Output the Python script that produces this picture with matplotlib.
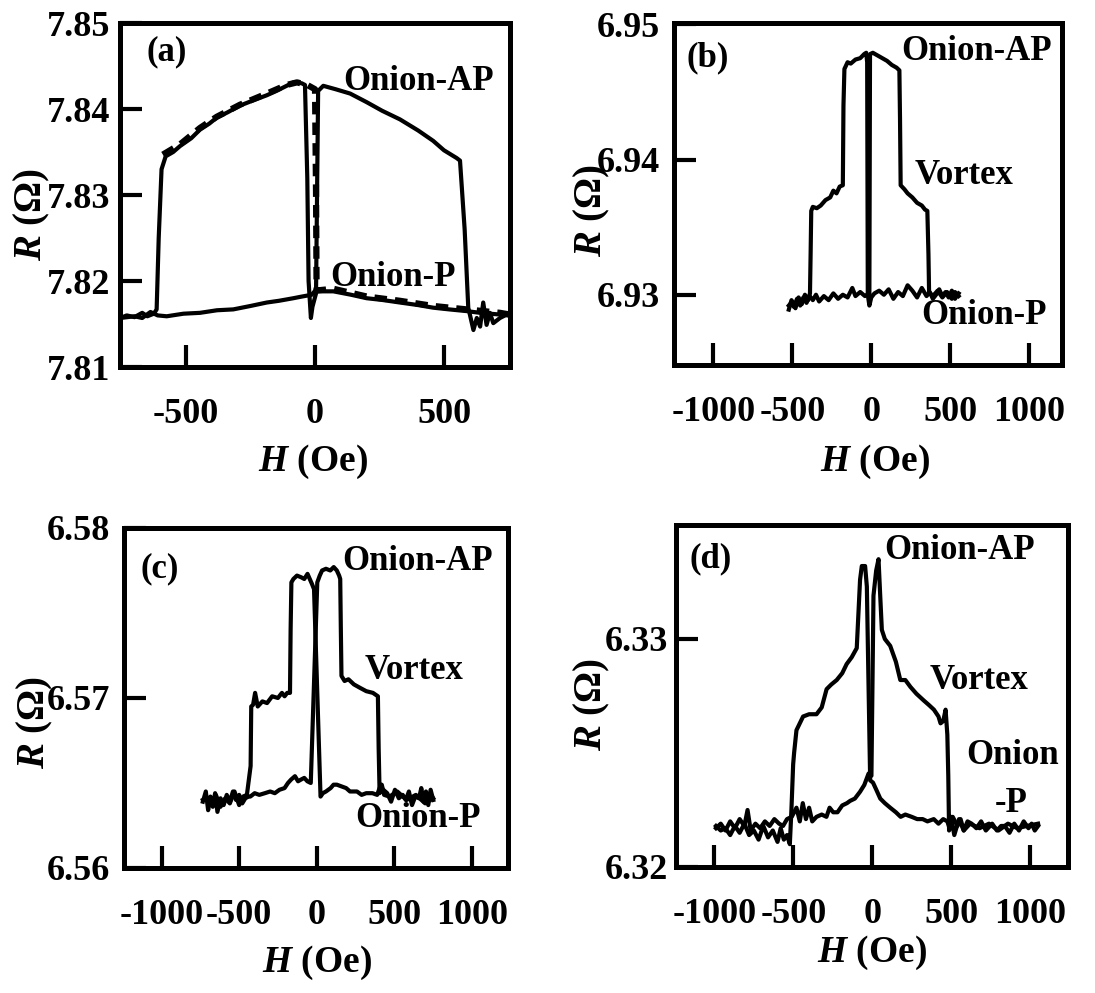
import matplotlib
matplotlib.use('Agg')
import matplotlib.pyplot as plt

plt.rcParams['font.family'] = ['Liberation Serif', 'DejaVu Serif']
plt.rcParams['font.weight'] = 'bold'
plt.rcParams['axes.labelweight'] = 'bold'
plt.rcParams['mathtext.fontset'] = 'custom'
plt.rcParams['mathtext.it'] = 'Liberation Serif:italic:bold'
plt.rcParams['mathtext.rm'] = 'Liberation Serif:bold'
plt.rcParams['mathtext.bf'] = 'Liberation Serif:bold'

# ---- data: (H in Oe, R in Ohm) ----
# (a) field sweep up, down and a repeated (dashed) up sweep
a_up = [(-755, 7.8157), (-730, 7.8160), (-700, 7.8158), (-670, 7.8163), (-650, 7.8159),
        (-625, 7.8162), (-614, 7.8167), (-606, 7.8250), (-595, 7.8330), (-579, 7.8345),
        (-550, 7.8350), (-523, 7.8357), (-480, 7.8366), (-446, 7.8376), (-410, 7.8383),
        (-381, 7.8390), (-340, 7.8396), (-291, 7.8404), (-240, 7.8410), (-187, 7.8416),
        (-150, 7.8421), (-110, 7.8427), (-84, 7.8431), (-52, 7.8430), (-39, 7.8428),
        (-30, 7.8320), (-25, 7.8200), (-16, 7.8157), (-10, 7.8170), (6, 7.8188),
        (71, 7.8188), (140, 7.8184), (200, 7.8180), (260, 7.8178), (329, 7.8175),
        (400, 7.8172), (458, 7.8169), (520, 7.8167), (588, 7.8165), (640, 7.8163),
        (717, 7.8161), (755, 7.8160)]
a_down = [(755, 7.8160), (743, 7.8161), (717, 7.8157), (691, 7.8151), (678, 7.8163),
          (665, 7.8149), (652, 7.8175), (640, 7.8147), (627, 7.8157), (614, 7.8143),
          (601, 7.8160), (594, 7.8169), (580, 7.8260), (562, 7.8340), (549, 7.8343),
          (500, 7.8352), (458, 7.8363), (400, 7.8375), (329, 7.8388), (260, 7.8398),
          (200, 7.8408), (136, 7.8418), (80, 7.8423), (32, 7.8427), (12, 7.8421),
          (4, 7.8190), (-13, 7.8184), (-50, 7.8182), (-84, 7.8180), (-140, 7.8177),
          (-187, 7.8175), (-250, 7.8171), (-317, 7.8167), (-380, 7.8166), (-446, 7.8163),
          (-510, 7.8162), (-575, 7.8159), (-610, 7.8160), (-638, 7.8164), (-670, 7.8157),
          (-700, 7.8159), (-755, 7.8157)]
a_repeat = [(-590, 7.8347), (-523, 7.8359), (-446, 7.8378), (-381, 7.8391), (-291, 7.8405),
            (-187, 7.8418), (-110, 7.8428), (-70, 7.8431), (-30, 7.8428), (0, 7.8423),
            (4, 7.8300), (6, 7.8189), (71, 7.8191), (200, 7.8182), (329, 7.8177),
            (458, 7.8171), (588, 7.8167), (717, 7.8163), (755, 7.8161)]

# (b)
b_down = [(553, 6.9301), (530, 6.9297), (510, 6.9303), (490, 6.9298), (470, 6.9302),
          (450, 6.9299), (430, 6.9304), (410, 6.9300), (390, 6.9297), (370, 6.9302),
          (350, 6.9299), (320, 6.9305), (290, 6.9298), (260, 6.9303), (230, 6.9307),
          (200, 6.9299), (170, 6.9302), (140, 6.9297), (110, 6.9304), (80, 6.9300),
          (50, 6.9303), (20, 6.9301), (0, 6.9298), (-12, 6.9292), (-22, 6.9300),
          (-26, 6.9472), (-32, 6.9479), (-45, 6.9478), (-70, 6.9475), (-100, 6.9474),
          (-130, 6.9471), (-150, 6.9472), (-170, 6.9467), (-176, 6.9440), (-180, 6.9381),
          (-200, 6.9380), (-220, 6.9375), (-240, 6.9377), (-260, 6.9372), (-290, 6.9370),
          (-320, 6.9366), (-345, 6.9364), (-370, 6.9365), (-380, 6.9362), (-384, 6.9330),
          (-388, 6.9301), (-400, 6.9296), (-420, 6.9300), (-440, 6.9293), (-460, 6.9298),
          (-480, 6.9290), (-500, 6.9295), (-522, 6.9292)]
b_up = [(-522, 6.9289), (-505, 6.9296), (-490, 6.9291), (-470, 6.9297), (-450, 6.9292),
        (-430, 6.9298), (-410, 6.9294), (-390, 6.9299), (-370, 6.9296), (-350, 6.9300),
        (-330, 6.9295), (-300, 6.9299), (-270, 6.9296), (-240, 6.9301), (-210, 6.9297),
        (-180, 6.9300), (-150, 6.9298), (-120, 6.9305), (-100, 6.9299), (-70, 6.9302),
        (-40, 6.9299), (-15, 6.9301), (-12, 6.9300), (-8, 6.9478), (10, 6.9479),
        (40, 6.9477), (70, 6.9475), (100, 6.9473), (130, 6.9470), (160, 6.9468),
        (178, 6.9466), (182, 6.9430), (186, 6.9381), (210, 6.9378), (230, 6.9375),
        (260, 6.9372), (290, 6.9368), (320, 6.9366), (340, 6.9363), (355, 6.9362),
        (362, 6.9330), (366, 6.9302), (390, 6.9299), (420, 6.9303), (450, 6.9298),
        (480, 6.9302), (510, 6.9297), (530, 6.9302), (553, 6.9299)]

# (c)
c_down = [(752, 6.5640), (735, 6.5646), (720, 6.5637), (705, 6.5645), (690, 6.5639),
          (675, 6.5647), (660, 6.5641), (636, 6.5642), (615, 6.5637), (595, 6.5645),
          (575, 6.5640), (555, 6.5643), (530, 6.5641), (505, 6.5646), (480, 6.5639),
          (455, 6.5644), (430, 6.5646), (410, 6.5648), (390, 6.5643), (360, 6.5644),
          (320, 6.5644), (290, 6.5643), (260, 6.5645), (230, 6.5645), (215, 6.5645),
          (190, 6.5647), (160, 6.5648), (130, 6.5649), (109, 6.5649), (90, 6.5647),
          (60, 6.5645), (40, 6.5644), (25, 6.5642), (-17, 6.5764), (-30, 6.5767),
          (-59, 6.5773), (-80, 6.5770), (-100, 6.5771), (-127, 6.5772), (-150, 6.5770),
          (-163, 6.5768), (-168, 6.5740), (-172, 6.5703), (-190, 6.5703), (-207, 6.5701),
          (-224, 6.5703), (-250, 6.5700), (-287, 6.5701), (-320, 6.5697), (-350, 6.5698),
          (-380, 6.5695), (-397, 6.5703), (-410, 6.5696), (-422, 6.5695), (-426, 6.5660),
          (-450, 6.5643), (-475, 6.5642), (-500, 6.5637), (-530, 6.5645), (-560, 6.5638),
          (-590, 6.5641), (-620, 6.5636), (-650, 6.5643), (-680, 6.5638), (-710, 6.5641),
          (-734, 6.5640)]
c_up = [(-734, 6.5639), (-715, 6.5645), (-700, 6.5634), (-685, 6.5642), (-670, 6.5636),
        (-655, 6.5644), (-640, 6.5633), (-620, 6.5641), (-600, 6.5637), (-580, 6.5643),
        (-560, 6.5639), (-540, 6.5645), (-520, 6.5640), (-500, 6.5643), (-480, 6.5638),
        (-460, 6.5641), (-440, 6.5642), (-428, 6.5642), (-400, 6.5644), (-370, 6.5643),
        (-334, 6.5644), (-300, 6.5645), (-270, 6.5644), (-240, 6.5646), (-207, 6.5647),
        (-185, 6.5650), (-165, 6.5652), (-140, 6.5654), (-120, 6.5651), (-101, 6.5652),
        (-80, 6.5653), (-60, 6.5651), (-38, 6.5650), (4, 6.5768), (20, 6.5772),
        (35, 6.5775), (60, 6.5776), (88, 6.5775), (110, 6.5777), (130, 6.5775),
        (145, 6.5772), (152, 6.5770), (156, 6.5740), (160, 6.5713), (180, 6.5710),
        (205, 6.5711), (240, 6.5708), (279, 6.5706), (320, 6.5704), (363, 6.5703),
        (395, 6.5701), (400, 6.5670), (406, 6.5644), (420, 6.5649), (435, 6.5643),
        (470, 6.5642), (520, 6.5645), (580, 6.5640), (640, 6.5643), (700, 6.5638),
        (752, 6.5641)]

# (d)
d_down = [(1051, 6.3218), (1030, 6.3216), (1010, 6.3219), (990, 6.3217), (960, 6.3220),
          (930, 6.3216), (900, 6.3219), (870, 6.3215), (840, 6.3218), (817, 6.3218),
          (790, 6.3216), (760, 6.3219), (720, 6.3216), (690, 6.3220), (660, 6.3217),
          (630, 6.3219), (604, 6.3220), (580, 6.3216), (560, 6.3221), (540, 6.3218),
          (510, 6.3222), (490, 6.3217), (476, 6.3220), (450, 6.3221), (420, 6.3219),
          (390, 6.3221), (350, 6.3220), (320, 6.3221), (285, 6.3221), (250, 6.3222),
          (210, 6.3223), (180, 6.3222), (150, 6.3224), (114, 6.3226), (80, 6.3228),
          (51, 6.3230), (25, 6.3234), (5, 6.3237), (-13, 6.3238), (-34, 6.3323),
          (-45, 6.3332), (-66, 6.3332), (-77, 6.3326), (-98, 6.3296), (-130, 6.3292),
          (-162, 6.3289), (-190, 6.3285), (-225, 6.3282), (-260, 6.3280), (-289, 6.3278),
          (-320, 6.3270), (-353, 6.3267), (-400, 6.3267), (-438, 6.3266), (-480, 6.3260),
          (-495, 6.3250), (-501, 6.3245), (-512, 6.3225), (-522, 6.3210), (-540, 6.3214),
          (-560, 6.3212), (-580, 6.3217), (-600, 6.3211), (-630, 6.3216), (-660, 6.3213),
          (-690, 6.3218), (-720, 6.3212), (-750, 6.3216), (-780, 6.3214), (-810, 6.3219),
          (-840, 6.3215), (-870, 6.3218), (-900, 6.3214), (-930, 6.3217), (-960, 6.3216),
          (-990, 6.3218)]
d_up = [(-990, 6.3217), (-960, 6.3219), (-930, 6.3216), (-900, 6.3220), (-870, 6.3217),
        (-840, 6.3221), (-810, 6.3218), (-790, 6.3225), (-770, 6.3216), (-740, 6.3219),
        (-710, 6.3217), (-680, 6.3220), (-650, 6.3218), (-620, 6.3221), (-590, 6.3219),
        (-565, 6.3218), (-540, 6.3221), (-510, 6.3222), (-480, 6.3226), (-459, 6.3220),
        (-440, 6.3228), (-420, 6.3221), (-400, 6.3226), (-380, 6.3220), (-353, 6.3222),
        (-320, 6.3223), (-290, 6.3222), (-270, 6.3226), (-247, 6.3224), (-220, 6.3224),
        (-190, 6.3227), (-160, 6.3228), (-140, 6.3229), (-110, 6.3230), (-77, 6.3233),
        (-50, 6.3236), (-23, 6.3241), (-5, 6.3240), (8, 6.3319), (25, 6.3330),
        (40, 6.3335), (50, 6.3320), (61, 6.3304), (80, 6.3300), (114, 6.3297),
        (150, 6.3290), (178, 6.3282), (210, 6.3282), (242, 6.3279), (280, 6.3276),
        (327, 6.3273), (360, 6.3271), (391, 6.3269), (420, 6.3266), (433, 6.3263),
        (450, 6.3264), (465, 6.3269), (476, 6.3258), (482, 6.3240), (487, 6.3216),
        (500, 6.3222), (520, 6.3214), (550, 6.3221), (580, 6.3216), (620, 6.3219),
        (680, 6.3217), (740, 6.3219), (800, 6.3216), (860, 6.3219), (920, 6.3217),
        (980, 6.3218), (1051, 6.3219)]

# state labels: (text, H, R)
a_notes = [('(a)', -652, 7.8467), ('Onion-AP', 108, 7.8432), ('Onion-P', 58, 7.8204)]
b_notes = [('(b)', -1171, 6.9475), ('Onion-AP', 192, 6.9480), ('Vortex', 277, 6.9388),
           ('Onion-P', 319, 6.9285)]
c_notes = [('(c)', -1135, 6.5776), ('Onion-AP', 163, 6.5780), ('Vortex', 310, 6.5716),
           ('Onion-P', 247, 6.5629)]
d_notes = [('(d)', -1160, 6.3335), ('Onion-AP', 74, 6.3339), ('Vortex', 362, 6.3282),
           ('Onion', 596, 6.3249), ('-P', 777, 6.3228)]


def draw(ax, curve, **kw):
    h = [p[0] for p in curve]
    r = [p[1] for p in curve]
    ax.plot(h, r, color='black', solid_joinstyle='round', **kw)


def style(ax, xlim, ylim, xticks, yticks, ypad, xlab, ylab, notes):
    ax.set_xlim(xlim)
    ax.set_ylim(ylim)
    ax.set_xticks(xticks)
    ax.set_xticklabels([str(t) for t in xticks])
    ax.set_yticks(yticks)
    ax.set_yticklabels(['%.2f' % t for t in yticks])
    ax.tick_params(direction='in', length=16, width=3, labelsize=26)
    ax.tick_params(axis='x', pad=22)
    ax.tick_params(axis='y', pad=ypad)
    for s in ax.spines.values():
        s.set_linewidth(3.6)
    ax.set_xlabel(r'$\mathit{H}$ (Oe)', fontsize=27, va='center')
    ax.xaxis.set_label_coords(*xlab)
    ax.set_ylabel(r'$\mathit{R}$ (Ω)', fontsize=28, va='center')
    ax.yaxis.set_label_coords(*ylab)
    for txt, h, r in notes:
        ax.text(h, r, txt, fontsize=25, ha='left', va='center')


fig = plt.figure(figsize=(10.95, 9.93), dpi=100)
ax1 = fig.add_axes([0.1096, 0.6304, 0.3562, 0.3464])
ax2 = fig.add_axes([0.6155, 0.6324, 0.3543, 0.3444])
ax3 = fig.add_axes([0.1132, 0.1259, 0.3507, 0.3424])
ax4 = fig.add_axes([0.6174, 0.1269, 0.3580, 0.3444])

draw(ax1, a_up, lw=3.0)
draw(ax1, a_down, lw=3.0)
draw(ax1, a_repeat, lw=4.5, linestyle=(0, (2.0, 1.3)))
style(ax1, (-756, 756), (7.81, 7.85), [-500, 0, 500],
      [7.81, 7.82, 7.83, 7.84, 7.85], 7, (0.495, -0.276), (-0.226, 0.442), a_notes)

draw(ax2, b_down, lw=3.0)
draw(ax2, b_up, lw=3.0)
style(ax2, (-1249, 1207), (6.9248, 6.9501), [-1000, -500, 0, 500, 1000],
      [6.93, 6.94, 6.95], 10, (0.518, -0.284), (-0.211, 0.453), b_notes)

draw(ax3, c_down, lw=3.0)
draw(ax3, c_up, lw=3.0)
style(ax3, (-1243, 1234), (6.56, 6.5800), [-1000, -500, 0, 500, 1000],
      [6.56, 6.57, 6.58], 10, (0.503, -0.279), (-0.232, 0.429), c_notes)

draw(ax4, d_down, lw=3.0)
draw(ax4, d_up, lw=3.0)
style(ax4, (-1243, 1241), (6.32, 6.335), [-1000, -500, 0, 500, 1000],
      [6.32, 6.33], 6, (0.5, -0.251), (-0.214, 0.474), d_notes)

fig.savefig('out.png', dpi=100)
